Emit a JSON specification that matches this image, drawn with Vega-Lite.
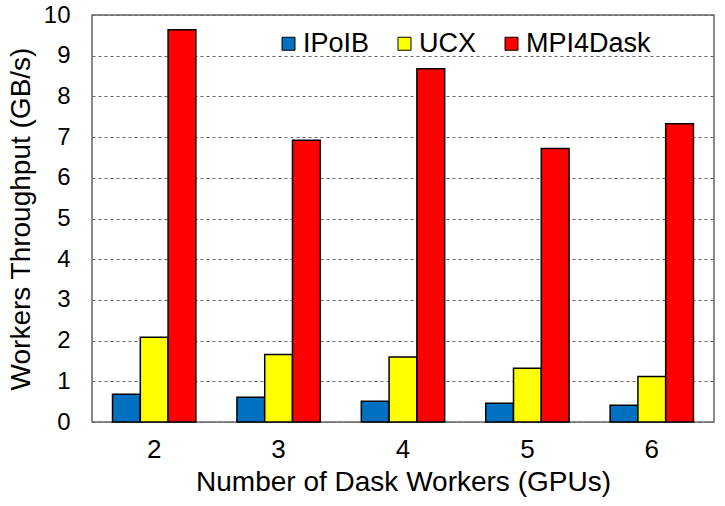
{
  "$schema": "https://vega.github.io/schema/vega-lite/v6.json",
  "width": 622,
  "height": 407,
  "autosize": {"type": "none"},
  "padding": {"left": 92, "top": 15, "right": 11, "bottom": 84},
  "background": "white",
  "config": {
    "font": "Liberation Sans",
    "view": {"stroke": "#666666", "strokeWidth": 1.5},
    "axis": {"labelColor": "black", "titleColor": "black", "titleFontWeight": "normal"}
  },
  "data": {
    "values": [
      {"workers": "2", "series": "IPoIB", "value": 0.68},
      {"workers": "2", "series": "UCX", "value": 2.08},
      {"workers": "2", "series": "MPI4Dask", "value": 9.64},
      {"workers": "3", "series": "IPoIB", "value": 0.61},
      {"workers": "3", "series": "UCX", "value": 1.66},
      {"workers": "3", "series": "MPI4Dask", "value": 6.92},
      {"workers": "4", "series": "IPoIB", "value": 0.51},
      {"workers": "4", "series": "UCX", "value": 1.6},
      {"workers": "4", "series": "MPI4Dask", "value": 8.68},
      {"workers": "5", "series": "IPoIB", "value": 0.46},
      {"workers": "5", "series": "UCX", "value": 1.32},
      {"workers": "5", "series": "MPI4Dask", "value": 6.72},
      {"workers": "6", "series": "IPoIB", "value": 0.41},
      {"workers": "6", "series": "UCX", "value": 1.12},
      {"workers": "6", "series": "MPI4Dask", "value": 7.33}
    ]
  },
  "mark": {"type": "bar", "stroke": "black", "strokeWidth": 1.5},
  "encoding": {
    "x": {
      "field": "workers",
      "type": "ordinal",
      "sort": ["2", "3", "4", "5", "6"],
      "scale": {"paddingInner": 0.33, "paddingOuter": 0.165},
      "axis": {
        "title": "Number of Dask Workers (GPUs)",
        "titleFontSize": 28,
        "titlePadding": 6,
        "labelFontSize": 26,
        "labelAngle": 0,
        "labelPadding": 14,
        "ticks": false,
        "domain": false,
        "grid": false
      }
    },
    "xOffset": {
      "field": "series",
      "type": "nominal",
      "sort": ["IPoIB", "UCX", "MPI4Dask"],
      "scale": {"paddingInner": 0, "paddingOuter": 0}
    },
    "y": {
      "field": "value",
      "type": "quantitative",
      "scale": {"domain": [0, 10], "nice": false},
      "axis": {
        "title": "Workers Throughput (GB/s)",
        "titleFontSize": 28,
        "titlePadding": 8,
        "labelFontSize": 24,
        "labelPadding": 22,
        "ticks": false,
        "domain": false,
        "values": [0, 1, 2, 3, 4, 5, 6, 7, 8, 9, 10],
        "grid": true,
        "gridColor": "#666666",
        "gridDash": [3, 3],
        "gridWidth": 1
      }
    },
    "color": {
      "field": "series",
      "type": "nominal",
      "sort": ["IPoIB", "UCX", "MPI4Dask"],
      "scale": {"domain": ["IPoIB", "UCX", "MPI4Dask"], "range": ["#0070C0", "#FFFF00", "#FF0000"]},
      "legend": {
        "title": null,
        "orient": "none",
        "direction": "horizontal",
        "legendX": 183,
        "legendY": 15,
        "padding": 0,
        "labelFontSize": 27,
        "labelColor": "black",
        "labelOffset": 1,
        "symbolType": "square",
        "symbolSize": 169,
        "symbolStrokeColor": "black",
        "symbolStrokeWidth": 1,
        "symbolOpacity": 1,
        "columnPadding": 21
      }
    }
  }
}
